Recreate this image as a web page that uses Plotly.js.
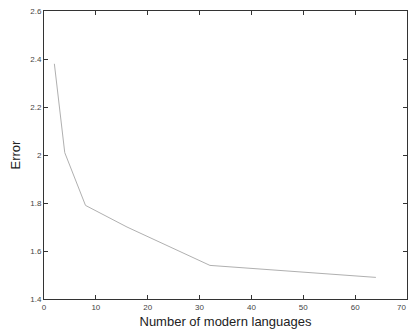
<!DOCTYPE html>
<html><head><meta charset="utf-8">
<script src="https://cdn.plot.ly/plotly-3.0.1.min.js"></script>
<style>html,body{margin:0;padding:0;background:#fff;}#chart{width:409px;height:330px;}</style>
</head><body><div id="chart"></div>
<script>
const numLanguages = [2, 4, 8, 16, 32, 64];
const errorValues = [2.38, 2.01, 1.79, 1.70, 1.54, 1.49];
const xTicks = [0, 10, 20, 30, 40, 50, 60, 70];
const yTicks = [1.4, 1.6, 1.8, 2, 2.2, 2.4, 2.6];
const yTickText = ['1.4', '1.6', '1.8', '2', '2.2', '2.4', '2.6'];
const font = 'Liberation Sans, Arial, sans-serif';

const axisCommon = {
  showgrid: false, zeroline: false, showline: true, mirror: 'ticks',
  linecolor: '#333', linewidth: 1, ticks: 'inside', ticklen: 4, tickcolor: '#333',
  tickfont: {family: font, size: 8, color: '#444'}
};
const lastX = xTicks[xTicks.length - 1];
Plotly.newPlot('chart', [{
  x: numLanguages, y: errorValues, type: 'scatter', mode: 'lines',
  line: {color: '#b0b0b0', width: 1}
}], {
  width: 409, height: 330,
  margin: {l: 44, r: 2, t: 11, b: 31},
  paper_bgcolor: '#fff', plot_bgcolor: '#fff',
  showlegend: false,
  xaxis: Object.assign({}, axisCommon, {
    range: [0, 70], tickvals: xTicks.slice(0, -1), ticktext: xTicks.slice(0, -1).map(String),
    title: {text: 'Number of modern languages', font: {family: font, size: 13, color: '#222'}, standoff: 6}
  }),
  yaxis: Object.assign({}, axisCommon, {
    range: [1.4, 2.6], tickvals: yTicks, ticktext: yTickText,
    title: {text: 'Error', font: {family: font, size: 13, color: '#222'}, standoff: 6}
  }),
  annotations: [{
    x: lastX, y: 0, xref: 'x', yref: 'paper', text: String(lastX), showarrow: false,
    xanchor: 'right', yanchor: 'top', xshift: 1, yshift: -2, font: {family: font, size: 8, color: '#444'}
  }]
}, {staticPlot: true, displayModeBar: false});
</script></body></html>
